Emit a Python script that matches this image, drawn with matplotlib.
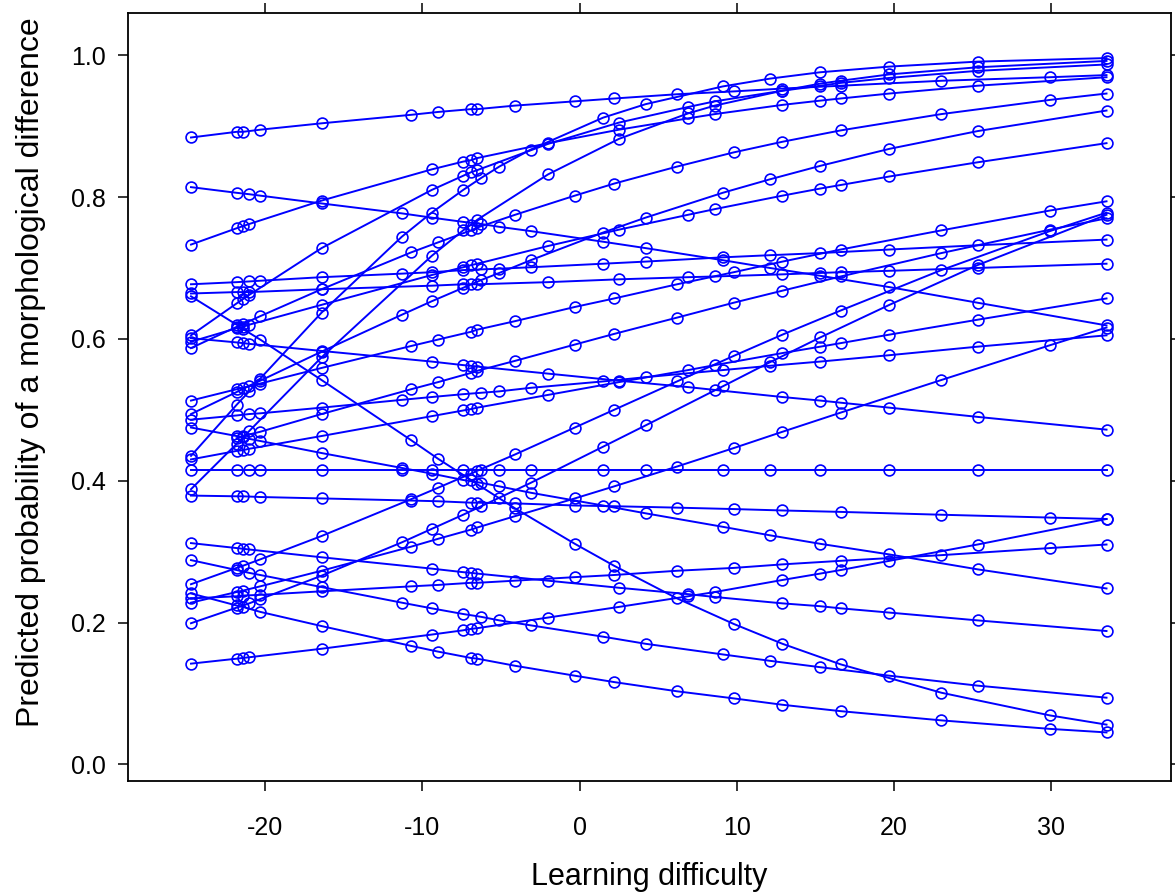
import matplotlib
matplotlib.use("Agg")
import matplotlib.pyplot as plt

plt.rcParams['font.family'] = ['Liberation Sans', 'DejaVu Sans']

# x positions (learning difficulty) used by the curves
x_t1 = [-24.7, -21.8, -21.4, -20.3, -16.4, -10.7, -9.0, -6.9, -6.5, -4.1, -0.3, 2.2, 6.2, 9.8, 12.9, 16.6, 23.0, 29.9, 33.5]
x_t2 = [-24.7, -21.8, -21.0, -20.3, -16.4, -11.3, -9.4, -7.4, -6.25, -5.1, -3.1, 1.5, 4.2, 9.1, 12.1, 15.3, 19.7, 25.3, 33.5]
x_t3 = [-24.7, -21.8, -21.4, -21.0, -16.4, -9.4, -7.4, -6.9, -6.5, -2.0, 2.5, 6.9, 8.6, 12.9, 15.3, 16.6, 19.7, 25.3, 33.5]
x_t4 = [-21.8, -21.4, -20.3, -16.4, -10.7, -9.0, -6.9, -6.5, -4.1, -0.3, 2.2, 6.2, 9.8, 12.9, 16.6, 23.0, 29.9, 33.5]

# predicted probabilities, one list per curve
y_a = [0.884, 0.892, 0.892, 0.895, 0.904, 0.916, 0.920, 0.924, 0.924, 0.929, 0.935, 0.939, 0.945, 0.949, 0.953, 0.957, 0.964, 0.969, 0.972]
y_b = [0.814, 0.806, 0.804, 0.802, 0.791, 0.777, 0.771, 0.765, 0.762, 0.758, 0.752, 0.737, 0.728, 0.711, 0.700, 0.689, 0.673, 0.651, 0.619]
y_c = [0.733, 0.756, 0.759, 0.762, 0.795, 0.839, 0.850, 0.852, 0.855, 0.876, 0.895, 0.911, 0.917, 0.930, 0.936, 0.939, 0.946, 0.957, 0.969]
y_d = [0.660, 0.620, 0.614, 0.599, 0.542, 0.457, 0.431, 0.401, 0.395, 0.361, 0.311, 0.280, 0.234, 0.198, 0.170, 0.141, 0.101, 0.069, 0.056]
y_e = [0.415] * 19
y_f = [0.142, 0.149, 0.150, 0.151, 0.163, 0.183, 0.189, 0.191, 0.192, 0.207, 0.222, 0.237, 0.243, 0.260, 0.269, 0.274, 0.287, 0.310, 0.346]
y_g = [0.234, 0.237, 0.238, 0.239, 0.244, 0.251, 0.253, 0.256, 0.256, 0.259, 0.264, 0.267, 0.273, 0.277, 0.282, 0.287, 0.295, 0.305, 0.310]
y_h = [0.475, 0.463, 0.459, 0.456, 0.439, 0.418, 0.410, 0.401, 0.397, 0.392, 0.383, 0.365, 0.354, 0.335, 0.323, 0.311, 0.296, 0.275, 0.248]
y_i = [0.601, 0.595, 0.594, 0.593, 0.583, 0.568, 0.563, 0.562, 0.561, 0.551, 0.541, 0.532, 0.528, 0.518, 0.513, 0.510, 0.503, 0.490, 0.472]
y_j = [0.228, 0.243, 0.245, 0.251, 0.273, 0.307, 0.318, 0.331, 0.334, 0.350, 0.375, 0.392, 0.420, 0.446, 0.469, 0.496, 0.542, 0.591, 0.616]
y_k = [0.486, 0.492, 0.494, 0.495, 0.503, 0.514, 0.518, 0.522, 0.524, 0.526, 0.531, 0.540, 0.546, 0.556, 0.562, 0.568, 0.577, 0.589, 0.605]
y_l = [0.430, 0.442, 0.443, 0.445, 0.463, 0.491, 0.499, 0.501, 0.503, 0.521, 0.539, 0.556, 0.563, 0.580, 0.589, 0.594, 0.606, 0.627, 0.657]
y_m = [0.254, 0.277, 0.280, 0.289, 0.322, 0.374, 0.390, 0.410, 0.414, 0.437, 0.475, 0.500, 0.540, 0.576, 0.606, 0.640, 0.697, 0.752, 0.778]
y_n = [0.199, 0.221, 0.227, 0.233, 0.266, 0.313, 0.332, 0.352, 0.364, 0.376, 0.397, 0.448, 0.478, 0.533, 0.567, 0.602, 0.648, 0.704, 0.775]
y_o = [0.664, 0.666, 0.666, 0.666, 0.670, 0.675, 0.677, 0.677, 0.677, 0.680, 0.684, 0.687, 0.688, 0.691, 0.693, 0.694, 0.696, 0.700, 0.706]
y_p = [0.241, 0.224, 0.222, 0.215, 0.195, 0.167, 0.159, 0.150, 0.149, 0.139, 0.125, 0.116, 0.103, 0.093, 0.084, 0.075, 0.062, 0.050, 0.045]
y_q = [0.288, 0.274, 0.270, 0.267, 0.250, 0.228, 0.220, 0.212, 0.208, 0.203, 0.196, 0.180, 0.170, 0.155, 0.146, 0.137, 0.125, 0.111, 0.094]
y_r = [0.312, 0.305, 0.304, 0.303, 0.292, 0.276, 0.271, 0.270, 0.269, 0.259, 0.249, 0.240, 0.236, 0.227, 0.223, 0.220, 0.214, 0.203, 0.188]
y_s = [0.379, 0.378, 0.378, 0.377, 0.375, 0.372, 0.371, 0.369, 0.369, 0.368, 0.365, 0.364, 0.362, 0.360, 0.358, 0.356, 0.352, 0.348, 0.346]
y_t = [0.435, 0.507, 0.526, 0.544, 0.637, 0.744, 0.778, 0.810, 0.827, 0.843, 0.867, 0.912, 0.931, 0.956, 0.967, 0.976, 0.984, 0.991, 0.996]
y_u = [0.388, 0.452, 0.461, 0.470, 0.574, 0.717, 0.753, 0.761, 0.768, 0.832, 0.882, 0.918, 0.929, 0.950, 0.960, 0.964, 0.973, 0.983, 0.992]
y_v = [0.587, 0.617, 0.621, 0.632, 0.670, 0.722, 0.736, 0.753, 0.757, 0.775, 0.802, 0.819, 0.843, 0.863, 0.878, 0.894, 0.917, 0.937, 0.946]
y_w = [0.494, 0.525, 0.534, 0.541, 0.582, 0.634, 0.653, 0.672, 0.683, 0.693, 0.711, 0.750, 0.771, 0.806, 0.825, 0.844, 0.868, 0.893, 0.922]
y_x = [0.596, 0.615, 0.617, 0.620, 0.648, 0.690, 0.701, 0.704, 0.706, 0.731, 0.754, 0.775, 0.783, 0.802, 0.812, 0.817, 0.829, 0.849, 0.876]
y_y = [0.513, 0.529, 0.531, 0.537, 0.559, 0.590, 0.599, 0.610, 0.613, 0.625, 0.645, 0.657, 0.677, 0.694, 0.709, 0.726, 0.753, 0.781, 0.794]
y_z = [0.677, 0.680, 0.681, 0.682, 0.687, 0.692, 0.694, 0.697, 0.698, 0.699, 0.701, 0.706, 0.709, 0.715, 0.718, 0.721, 0.726, 0.732, 0.740]
y_aa = [0.605, 0.650, 0.656, 0.662, 0.728, 0.810, 0.830, 0.835, 0.838, 0.875, 0.905, 0.927, 0.935, 0.950, 0.957, 0.961, 0.968, 0.978, 0.987]
y_ab = [0.460, 0.463, 0.469, 0.494, 0.529, 0.539, 0.552, 0.555, 0.569, 0.592, 0.607, 0.630, 0.651, 0.668, 0.688, 0.721, 0.754, 0.770]

curves = [
    (x_t1, y_a), (x_t2, y_b), (x_t3, y_c), (x_t1, y_d), (x_t2, y_e),
    (x_t3, y_f), (x_t1, y_g), (x_t2, y_h), (x_t3, y_i), (x_t1, y_j),
    (x_t2, y_k), (x_t3, y_l), (x_t1, y_m), (x_t2, y_n), (x_t3, y_o),
    (x_t1, y_p), (x_t2, y_q), (x_t3, y_r), (x_t1, y_s), (x_t2, y_t),
    (x_t3, y_u), (x_t1, y_v), (x_t2, y_w), (x_t3, y_x), (x_t1, y_y),
    (x_t2, y_z), (x_t3, y_aa), (x_t4, y_ab),
]

fig = plt.figure(figsize=(11.75, 8.94), dpi=100)
ax = fig.add_axes([0.109, 0.1264, 0.8876, 0.8594])

for xs, ys in curves:
    ax.plot(xs, ys, color='#0000ff', lw=1.4, marker='o', ms=7.8,
            mfc='none', mec='#0000ff', mew=1.2)

ax.set_xlim(-28.7, 37.6)
ax.set_ylim(-0.0235, 1.060)
ax.set_xticks([-20, -10, 0, 10, 20, 30])
ax.set_xticklabels(['-20', '-10', '0', '10', '20', '30'])
ax.set_yticks([0.0, 0.2, 0.4, 0.6, 0.8, 1.0])
ax.set_yticklabels(['0.0', '0.2', '0.4', '0.6', '0.8', '1.0'])
ax.tick_params(direction='out', length=7, width=1.1, labelsize=18,
               top=True, right=True, labeltop=False, labelright=False)
ax.tick_params(axis='x', pad=18)
ax.tick_params(axis='y', pad=9)
for sp in ax.spines.values():
    sp.set_linewidth(1.3)

ax.set_xlabel('Learning difficulty', fontsize=22, labelpad=16)
ax.set_ylabel('Predicted probability of a morphological difference', fontsize=23)
ax.yaxis.set_label_coords(-0.079, 0.532)

fig.savefig('out.png', dpi=100)
